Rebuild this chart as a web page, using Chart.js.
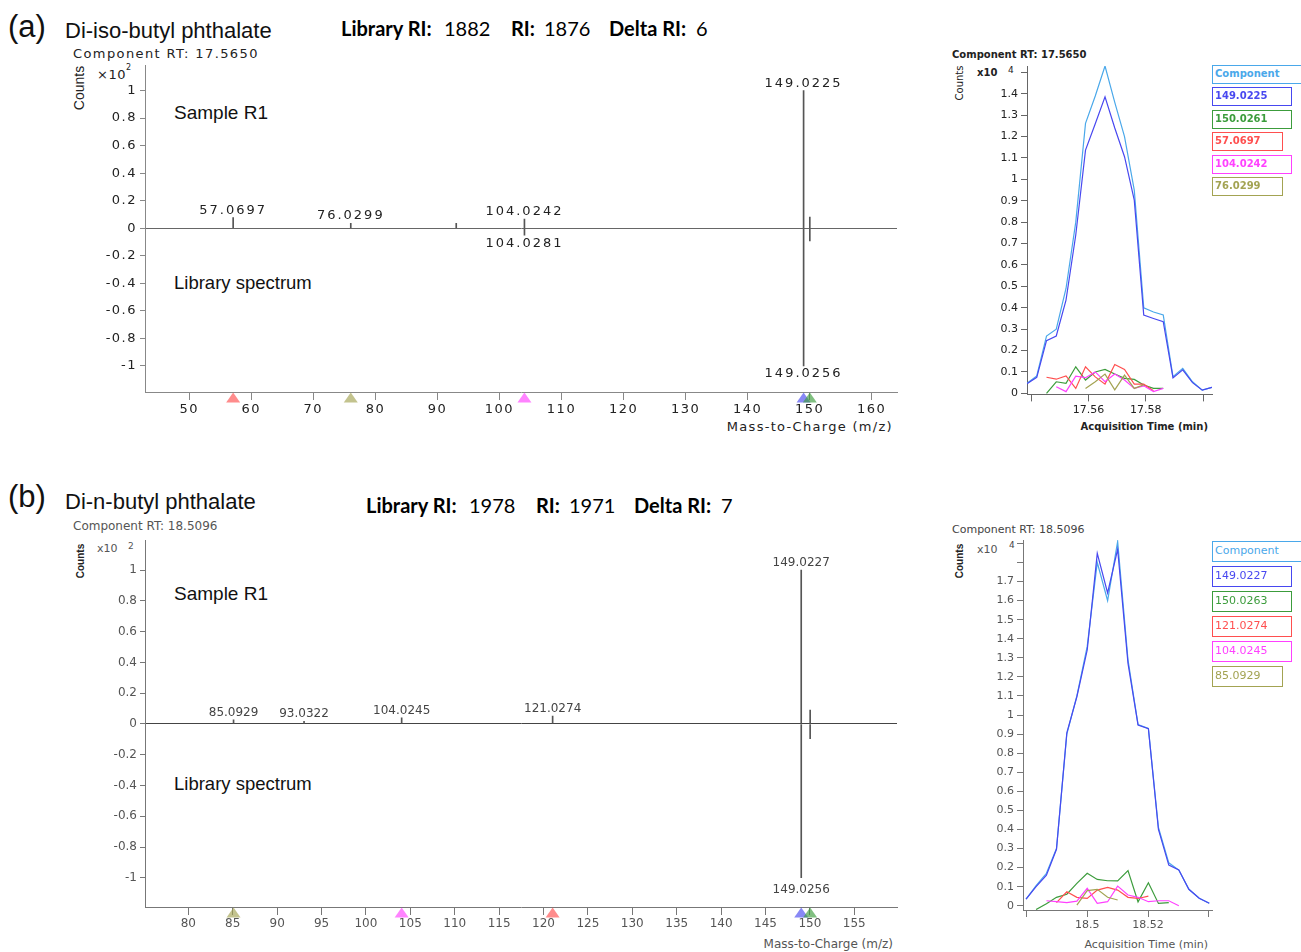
<!DOCTYPE html>
<html>
<head>
<meta charset="utf-8">
<title>Phthalate spectra</title>
<script src="https://cdn.jsdelivr.net/npm/chart.js@4.4.1/dist/chart.umd.min.js"></script>
<style>
body { margin: 0; background: #fff; }
#page { position: relative; width: 1301px; height: 952px; overflow: hidden; font-family: "Liberation Sans", Arial, sans-serif; color: #111; }
canvas { position: absolute; }
.t { position: absolute; white-space: nowrap; line-height: 1; transform: translateY(-50%); }
.v { position: absolute; white-space: nowrap; line-height: 1; transform: translate(-50%, -50%) rotate(-90deg); }
.ri { font-family: Lato, "Open Sans", sans-serif; font-size: 20px; color: #000; }
.ri b { font-weight: 700; }
.lg { position: absolute; left: 1212px; box-sizing: border-box; border: 1.5px solid; padding-left: 2px; font-family: "DejaVu Sans", sans-serif; white-space: nowrap; background: #fff; }
.lgA { height: 19px; line-height: 16px; font-size: 10px; font-weight: bold; }
.lgB { height: 21px; line-height: 18px; font-size: 11px; }
.dv { font-family: "DejaVu Sans", sans-serif; }
</style>
</head>
<body>
<div id="page">
  <!-- panel (a) -->
  <div class="t" style="left:8px; top:26px; font-size:31px;">(a)</div>
  <div class="t" style="left:65px; top:31px; font-size:22px;">Di-iso-butyl phthalate</div>
  <div class="t ri" style="left:341px; top:28px;"><b>Library RI:</b></div>
  <div class="t ri" style="left:444px; top:28px;">1882</div>
  <div class="t ri" style="left:511px; top:28px;"><b>RI:</b></div>
  <div class="t ri" style="left:544px; top:28px;">1876</div>
  <div class="t ri" style="left:609px; top:28px;"><b>Delta RI:</b></div>
  <div class="t ri" style="left:696px; top:28px;">6</div>
  <div class="t dv" style="left:73px; top:53px; font-size:13px; letter-spacing:1.4px; color:#222;">Component RT: 17.5650</div>
  <div class="v" style="left:79px; top:88px; font-size:14px; color:#222;">Counts</div>
  <div class="t dv" style="left:97px; top:74px; font-size:13px; letter-spacing:0.5px; color:#222;">×10</div>
  <div class="t dv" style="left:126px; top:68px; font-size:8px; color:#222;">2</div>
  <div class="t" style="left:174px; top:112px; font-size:19px;">Sample R1</div>
  <div class="t" style="left:174px; top:283px; font-size:18.5px;">Library spectrum</div>
  <div class="t dv" style="right:408px; top:426px; font-size:13px; letter-spacing:1.3px; color:#222;">Mass-to-Charge (m/z)</div>
  <div class="t dv" style="left:952px; top:55px; font-size:10px; font-weight:bold; color:#222;">Component RT: 17.5650</div>
  <div class="v dv" style="left:960px; top:83px; font-size:10px; color:#222;">Counts</div>
  <div class="t dv" style="left:977px; top:73px; font-size:10px; font-weight:bold; color:#222;">x10</div>
  <div class="t dv" style="left:1008px; top:70px; font-size:9px; color:#222;">4</div>
  <div class="t dv" style="right:93px; top:427px; font-size:10px; font-weight:bold; color:#222;">Acquisition Time (min)</div>

  <!-- panel (b) -->
  <div class="t" style="left:8px; top:496px; font-size:31px;">(b)</div>
  <div class="t" style="left:65px; top:502px; font-size:22px;">Di-n-butyl phthalate</div>
  <div class="t ri" style="left:366px; top:505px;"><b>Library RI:</b></div>
  <div class="t ri" style="left:469px; top:505px;">1978</div>
  <div class="t ri" style="left:536px; top:505px;"><b>RI:</b></div>
  <div class="t ri" style="left:569px; top:505px;">1971</div>
  <div class="t ri" style="left:634px; top:505px;"><b>Delta RI:</b></div>
  <div class="t ri" style="left:721px; top:505px;">7</div>
  <div class="t dv" style="left:73px; top:526px; font-size:12px; color:#555;">Component RT: 18.5096</div>
  <div class="v" style="left:81px; top:561px; font-size:10px; font-weight:bold; color:#222;">Counts</div>
  <div class="t dv" style="left:97px; top:548px; font-size:11px; color:#555;">x10</div>
  <div class="t dv" style="left:128px; top:546px; font-size:9px; color:#555;">2</div>
  <div class="t" style="left:174px; top:593px; font-size:19px;">Sample R1</div>
  <div class="t" style="left:174px; top:784px; font-size:18.5px;">Library spectrum</div>
  <div class="t dv" style="right:408px; top:944px; font-size:12px; color:#555;">Mass-to-Charge (m/z)</div>
  <div class="t dv" style="left:952px; top:529px; font-size:11px; color:#444;">Component RT: 18.5096</div>
  <div class="v" style="left:960px; top:561px; font-size:10px; font-weight:bold; color:#222;">Counts</div>
  <div class="t dv" style="left:977px; top:549px; font-size:11px; color:#555;">x10</div>
  <div class="t dv" style="left:1009px; top:545px; font-size:9px; color:#444;">4</div>
  <div class="t dv" style="right:93px; top:944px; font-size:11px; color:#555;">Acquisition Time (min)</div>

  <canvas id="specA" width="800" height="375" style="left:100px; top:55px;"></canvas>
  <canvas id="chromA" width="260" height="384" style="left:955px; top:56px;"></canvas>
  <canvas id="specB" width="800" height="422" style="left:100px; top:530px;"></canvas>
  <canvas id="chromB" width="260" height="422" style="left:955px; top:530px;"></canvas>
</div>

<script>
// ---------- (a) Di-iso-butyl phthalate: mass spectrum ----------
const specXTicksA = [50, 60, 70, 80, 90, 100, 110, 120, 130, 140, 150, 160];
const specYTicksA = [-1, -0.8, -0.6, -0.4, -0.2, 0, 0.2, 0.4, 0.6, 0.8, 1];
const sampleMzA = [57.0697, 76.0299, 93.03, 104.0242, 149.0225, 150.0261];
const sampleIntA = [0.077, 0.036, 0.036, 0.066, 1.0, 0.08];
const sampleLabelA = ['57.0697', '76.0299', '', '104.0242', '149.0225', ''];
const libMzA = [104.0281, 149.0256, 150.029];
const libIntA = [-0.05, -1.0, -0.092];
const libLabelA = ['104.0281', '149.0256', ''];
const ionMzA = [57.0697, 76.0299, 104.0242, 149.0225, 150.0261];

// ---------- (a) extracted ion chromatograms (x10^4 counts) ----------
const timeA = [17.5386, 17.5420, 17.5454, 17.5488, 17.5522, 17.5556, 17.5590, 17.5624, 17.5658, 17.5692,
               17.5726, 17.5760, 17.5793, 17.5827, 17.5861, 17.5895, 17.5929, 17.5963, 17.5997, 17.6031];
const traceNamesA = ['Component', '149.0225', '150.0261', '57.0697', '104.0242', '76.0299'];
const componentA = [0.047, 0.081, 0.268, 0.300, 0.490, 0.800, 1.262, 1.390, 1.530, 1.360,
                    1.200, 0.950, 0.400, 0.380, 0.366, 0.078, 0.117, 0.054, 0.015, 0.028];
const ion149A = [0.045, 0.075, 0.246, 0.268, 0.436, 0.740, 1.137, 1.260, 1.386, 1.240,
                 1.106, 0.903, 0.366, 0.350, 0.335, 0.072, 0.110, 0.050, 0.015, 0.028];
const ion150A = [null, null, 0.000, 0.054, 0.047, 0.124, 0.062, 0.100, 0.112, 0.090,
                 0.070, 0.065, 0.039, 0.023, 0.023, null, null, null, null, null];
const ion57A = [null, null, 0.075, 0.066, 0.081, 0.023, 0.124, 0.077, 0.043, 0.135,
                0.112, 0.043, 0.043, 0.012, null, null, null, null, null, null];
const ion104A = [null, null, null, 0.031, 0.008, 0.080, 0.073, 0.100, 0.054, 0.090,
                 0.062, 0.023, 0.035, 0.008, 0.023, null, null, null, null, null];
const ion76A = [null, null, null, null, null, null, 0.023, 0.054, 0.090, 0.016,
                0.085, 0.023, 0.040, null, null, null, null, null, null, null];
const chromXTicksA = [17.54, 17.56, 17.58, 17.60];
const chromXLabelsA = [17.56, 17.58];
const chromYTicksA = [0, 0.1, 0.2, 0.3, 0.4, 0.5, 0.6, 0.7, 0.8, 0.9, 1, 1.1, 1.2, 1.3, 1.4, 1.5];
const chromYHiddenA = [1.5];

// ---------- (b) Di-n-butyl phthalate: mass spectrum ----------
const specXTicksB = [80, 85, 90, 95, 100, 105, 110, 115, 120, 125, 130, 135, 140, 145, 150, 155];
const specYTicksB = [-1, -0.8, -0.6, -0.4, -0.2, 0, 0.2, 0.4, 0.6, 0.8, 1];
const sampleMzB = [85.0929, 93.0322, 104.0245, 121.0274, 149.0227, 150.03];
const sampleIntB = [0.027, 0.018, 0.04, 0.052, 1.0, 0.09];
const sampleLabelB = ['85.0929', '93.0322', '104.0245', '121.0274', '149.0227', ''];
const libMzB = [149.0256, 150.029];
const libIntB = [-1.0, -0.095];
const libLabelB = ['149.0256', ''];
const ionMzB = [85.0929, 104.0245, 121.0274, 149.0227, 150.0263];

// ---------- (b) extracted ion chromatograms (x10^4 counts) ----------
const timeB = [18.4799, 18.4832, 18.4866, 18.4899, 18.4933, 18.4966, 18.5000, 18.5033, 18.5067, 18.5100,
               18.5134, 18.5167, 18.5201, 18.5234, 18.5268, 18.5301, 18.5334, 18.5368, 18.5401];
const traceNamesB = ['Component', '149.0227', '150.0263', '121.0274', '104.0245', '85.0929'];
const componentB = [0.034, 0.105, 0.170, 0.300, 0.900, 1.100, 1.360, 1.800, 1.600, 1.910,
                    1.290, 0.950, 0.930, 0.410, 0.225, 0.187, 0.086, 0.039, 0.013];
const ion149B = [0.034, 0.100, 0.160, 0.296, 0.907, 1.096, 1.341, 1.848, 1.640, 1.869,
                 1.271, 0.948, 0.928, 0.400, 0.213, 0.187, 0.086, 0.039, 0.013];
const ion150B = [null, -0.020, 0.010, 0.044, 0.060, 0.117, 0.170, 0.138, 0.131, 0.130,
                 0.184, 0.020, 0.120, 0.012, 0.016, null, null, null, null];
const ion121B = [null, null, null, 0.016, 0.073, 0.044, 0.038, 0.082, 0.096, 0.082,
                 0.044, 0.038, 0.050, null, null, null, null, null, null];
const ion104B = [null, null, 0.026, 0.021, 0.016, 0.024, 0.091, 0.012, 0.021, 0.103,
                 0.056, 0.044, 0.021, 0.026, 0.026, 0.000, null, null, null];
const ion85B = [null, null, null, null, null, 0.003, 0.079, 0.086, 0.044, 0.030,
                null, null, null, null, null, null, null, null, null];
const chromXTicksB = [18.48, 18.50, 18.52, 18.54];
const chromXLabelsB = [18.5, 18.52];
const chromYTicksB = [0, 0.1, 0.2, 0.3, 0.4, 0.5, 0.6, 0.7, 0.8, 0.9, 1, 1.1, 1.2, 1.3, 1.4, 1.5, 1.6, 1.7, 1.8, 1.9];
const chromYHiddenB = [1.8, 1.9];

// colours
const LIGHTBLUE = '#4aa8ea', BLUE = '#4848f0', GREEN = '#3c9c3c', RED = '#ff4f4f', MAGENTA = '#ff40ff', OLIVE = '#a3a352';
const traceColorsA = [LIGHTBLUE, BLUE, GREEN, RED, MAGENTA, OLIVE];
const traceColorsB = [LIGHTBLUE, BLUE, GREEN, RED, MAGENTA, OLIVE];
const ionColorsA = [RED, OLIVE, MAGENTA, BLUE, GREEN];
const ionColorsB = [OLIVE, MAGENTA, RED, BLUE, GREEN];

// ---------- plugins ----------
function letterSpacing(px) {
    return {
        id: 'letterSpacing',
        beforeLayout(chart) { chart.ctx.letterSpacing = px; },
        beforeDraw(chart) { chart.ctx.letterSpacing = px; }
    };
}

// m/z labels next to the stick tips
function peakLabels(labelSets, font, color, spacing, gapUp, gapDown) {
    return {
        id: 'peakLabels',
        afterDatasetsDraw(chart) {
            const ctx = chart.ctx;
            ctx.save();
            ctx.font = font;
            ctx.fillStyle = color;
            ctx.textAlign = 'center';
            ctx.textBaseline = 'alphabetic';
            ctx.letterSpacing = spacing;
            labelSets.forEach((labels, d) => {
                chart.getDatasetMeta(d).data.forEach((bar, i) => {
                    if (!labels[i]) return;
                    const up = bar.y < bar.base;
                    ctx.fillText(labels[i], bar.x, up ? bar.y - gapUp : bar.y + gapDown);
                });
            });
            ctx.restore();
        }
    };
}

// coloured triangles under the m/z axis for the extracted ions
function ionMarkers(mz, colors) {
    return {
        id: 'ionMarkers',
        afterDraw(chart) {
            const ctx = chart.ctx, xs = chart.scales.x, y = chart.chartArea.bottom + 0.5;
            mz.forEach((m, i) => {
                const x = xs.getPixelForValue(m);
                ctx.save();
                ctx.globalAlpha = 0.65;
                ctx.fillStyle = colors[i];
                ctx.beginPath();
                ctx.moveTo(x, y);
                ctx.lineTo(x - 7, y + 10);
                ctx.lineTo(x + 7, y + 10);
                ctx.closePath();
                ctx.fill();
                ctx.restore();
            });
        }
    };
}

// ---------- chart builders ----------
function spectrumChart(id, o) {
    const bars = (mz, ints) => mz.map((x, i) => ({ x: x, y: ints[i] }));
    return new Chart(document.getElementById(id), {
        type: 'bar',
        data: {
            datasets: [
                { data: bars(o.sampleMz, o.sampleInt), backgroundColor: o.stick, barThickness: 1, grouped: false },
                { data: bars(o.libMz, o.libInt), backgroundColor: o.stick, barThickness: 1, grouped: false }
            ]
        },
        options: {
            animation: false,
            responsive: false,
            layout: { padding: { top: 10, right: 3, left: 0, bottom: 0 } },
            plugins: { legend: { display: false }, tooltip: { enabled: false } },
            scales: {
                x: {
                    type: 'linear', min: o.xMin, max: o.xMax, offset: false,
                    afterBuildTicks: s => { s.ticks = o.xTicks.map(v => ({ value: v })); },
                    afterFit: s => { s.height = o.xHeight; },
                    grid: { offset: false, drawOnChartArea: false, tickLength: 8, tickColor: o.axis },
                    border: { color: o.axis },
                    ticks: { autoSkip: false, maxRotation: 0, padding: 2, color: o.text, font: o.font, callback: v => String(v) }
                },
                y: {
                    min: o.yMin, max: o.yMax,
                    afterBuildTicks: s => { s.ticks = o.yTicks.map(v => ({ value: v })); },
                    afterFit: s => { s.width = 45; },
                    grid: {
                        color: c => (c.tick && c.tick.value === 0) ? o.zero : 'rgba(0,0,0,0)',
                        tickColor: o.axis, tickLength: 5
                    },
                    border: { color: o.axis },
                    ticks: { autoSkip: false, padding: 3, color: o.text, font: o.font, callback: v => String(v) }
                }
            }
        },
        plugins: [
            letterSpacing(o.spacing),
            peakLabels([o.sampleLabels, o.libLabels], o.labelFont, o.labelColor, o.labelSpacing, o.gapUp, o.gapDown),
            ionMarkers(o.ionMz, o.ionColors)
        ]
    });
}

function chromChart(id, o) {
    return new Chart(document.getElementById(id), {
        type: 'line',
        data: {
            datasets: o.traces.map((vals, i) => ({
                label: o.names[i],
                data: vals.map((v, j) => ({ x: o.times[j], y: v })),
                borderColor: o.colors[i],
                borderWidth: 1.2,
                pointRadius: 0,
                tension: 0,
                order: o.traces.length - i
            }))
        },
        options: {
            animation: false,
            responsive: false,
            layout: { padding: { top: 10, right: 3, left: 0, bottom: 0 } },
            plugins: { legend: { display: false }, tooltip: { enabled: false } },
            scales: {
                x: {
                    type: 'linear', min: o.xMin, max: o.xMax,
                    afterBuildTicks: s => { s.ticks = o.xTicks.map(v => ({ value: v })); },
                    afterFit: s => { s.height = o.xHeight; },
                    grid: { drawOnChartArea: false, tickLength: 7, tickColor: o.axis },
                    border: { color: o.axis },
                    ticks: { autoSkip: false, maxRotation: 0, padding: 2, color: o.text, font: o.font,
                             callback: v => o.xLabels.includes(v) ? String(v) : '' }
                },
                y: {
                    min: o.yMin, max: o.yMax,
                    afterBuildTicks: s => { s.ticks = o.yTicks.map(v => ({ value: v })); },
                    afterFit: s => { s.width = o.yWidth; },
                    grid: { drawOnChartArea: false, tickLength: 6, tickColor: o.axis },
                    border: { color: o.axis },
                    ticks: { autoSkip: false, padding: 3, color: o.text, font: o.font,
                             callback: v => o.yHidden.includes(v) ? '' : String(v) }
                }
            }
        }
    });
}

function legendBoxes(names, colors, top, step, cls) {
    const page = document.getElementById('page');
    names.forEach((n, i) => {
        const d = document.createElement('div');
        d.className = 'lg ' + cls;
        d.textContent = n;
        d.style.top = (top + i * step) + 'px';
        d.style.width = (i === 0 ? 100 : 8 + n.length * 9) + 'px';
        d.style.borderColor = colors[i];
        d.style.color = colors[i];
        page.appendChild(d);
    });
}

// ---------- draw ----------
spectrumChart('specA', {
    sampleMz: sampleMzA, sampleInt: sampleIntA, sampleLabels: sampleLabelA,
    libMz: libMzA, libInt: libIntA, libLabels: libLabelA,
    ionMz: ionMzA, ionColors: ionColorsA,
    xTicks: specXTicksA, yTicks: specYTicksA,
    xMin: 42.86, xMax: 164.08, yMin: -1.19, yMax: 1.18, xHeight: 38,
    stick: '#555', axis: '#888', zero: '#666', text: '#222',
    font: { family: 'DejaVu Sans', size: 13 }, spacing: '1.5px',
    labelFont: '13px "DejaVu Sans"', labelColor: '#222', labelSpacing: '2px', gapUp: 4, gapDown: 11.5
});

spectrumChart('specB', {
    sampleMz: sampleMzB, sampleInt: sampleIntB, sampleLabels: sampleLabelB,
    libMz: libMzB, libInt: libIntB, libLabels: libLabelB,
    ionMz: ionMzB, ionColors: ionColorsB,
    xTicks: specXTicksB, yTicks: specYTicksB,
    xMin: 75.12, xMax: 159.81, yMin: -1.19, yMax: 1.195, xHeight: 45,
    stick: '#555', axis: '#777', zero: '#444', text: '#555',
    font: { family: 'DejaVu Sans', size: 12 }, spacing: '0px',
    labelFont: '12px "DejaVu Sans"', labelColor: '#444', labelSpacing: '0px', gapUp: 4, gapDown: 15
});

chromChart('chromA', {
    times: timeA, names: traceNamesA, colors: traceColorsA,
    traces: [componentA, ion149A, ion150A, ion57A, ion104A, ion76A],
    xTicks: chromXTicksA, xLabels: chromXLabelsA, yTicks: chromYTicksA, yHidden: chromYHiddenA,
    xMin: 17.5386, xMax: 17.6031, yMin: -0.005, yMax: 1.53, xHeight: 45.6, yWidth: 72,
    axis: '#666', text: '#222', font: { family: 'DejaVu Sans', size: 11 }
});

chromChart('chromB', {
    times: timeB, names: traceNamesB, colors: traceColorsB,
    traces: [componentB, ion149B, ion150B, ion121B, ion104B, ion85B],
    xTicks: chromXTicksB, xLabels: chromXLabelsB, yTicks: chromYTicksB, yHidden: chromYHiddenB,
    xMin: 18.4789, xMax: 18.541, yMin: -0.0225, yMax: 1.918, xHeight: 42, yWidth: 68,
    axis: '#777', text: '#555', font: { family: 'DejaVu Sans', size: 11 }
});

legendBoxes(traceNamesA, traceColorsA, 65, 22.4, 'lgA');
legendBoxes(traceNamesB, traceColorsB, 541, 25, 'lgB');
</script>
</body>
</html>
